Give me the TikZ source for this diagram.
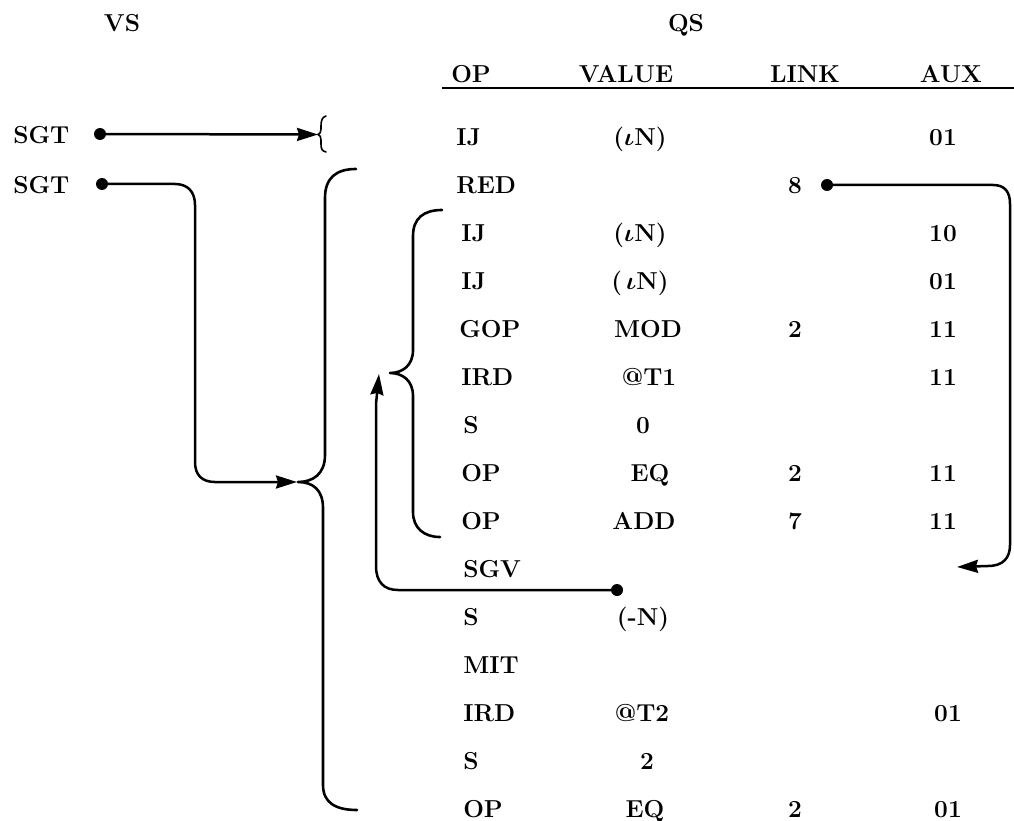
\documentclass[tikz,border=0pt]{standalone}
\usetikzlibrary{arrows.meta}
\begin{document}
\begin{tikzpicture}[x=1pt,y=-1pt,line width=2.5pt,line cap=round,line join=round,
  txt/.style={inner sep=0pt,font=\fontsize{24.5}{29}\selectfont\bfseries\boldmath},
  lft/.style={txt,anchor=base west},
  ctr/.style={txt,anchor=base},
  dot/.style={circle,fill,inner sep=0pt,minimum size=12pt},
  arr/.style={-{Stealth[length=21pt,width=13pt,inset=2pt]}},
  brace/.style={line width=2.6pt}]
\useasboundingbox (0,0) rectangle (1014,821);

% headers
\node[ctr] (vs) at (122,31.5) {VS};
\node[ctr] (qs) at (686,31.5) {QS};
\node[lft] (hop) at (450,82.5) {OP};
\node[ctr] (hval) at (626,82.5) {VALUE};
\node[ctr] (hlink) at (805,82.5) {LINK};
\node[ctr] (haux) at (951,82.5) {AUX};
\coordinate (hl) at (442,88);
\coordinate (hr) at (1014,88);
\draw[line width=2.2pt,line cap=butt] (hl) -- (hr);

% VS labels
\node[lft] (sgt1) at (12,143.5) {SGT};
\node[lft] (sgt2) at (12,193.5) {SGT};

% QS rows (baseline = centre + 8.5)
\node[lft] (op0) at (455,145.5) {IJ};
\node[ctr] (val0) at (640,145.5) {($\iota$N)};
\node[ctr] (aux0) at (943,145.5) {01};

\node[lft] (op1) at (455,193.5) {RED};
\node[ctr] (lnk1) at (795,193.5) {8};

\node[lft] (op2) at (460,241.5) {IJ};
\node[ctr] (val2) at (640,241.5) {($\iota$N)};
\node[ctr] (aux2) at (943,241.5) {10};

\node[lft] (op3) at (460,289.5) {IJ};
\node[ctr] (val3) at (640,289.5) {(\,$\iota$N)};
\node[ctr] (aux3) at (943,289.5) {01};

\node[lft] (op4) at (458,337.5) {GOP};
\node[ctr] (val4) at (648,337.5) {MOD};
\node[ctr] (lnk4) at (795,337.5) {2};
\node[ctr] (aux4) at (943,337.5) {11};

\node[lft] (op5) at (460,385.5) {IRD};
\node[ctr] (val5) at (649,385.5) {@T1};
\node[ctr] (aux5) at (943,385.5) {11};

\node[lft] (op6) at (462,433.5) {S};
\node[ctr] (val6) at (643,433.5) {0};

\node[lft] (op7) at (460,481.5) {OP};
\node[ctr] (val7) at (650,481.5) {EQ};
\node[ctr] (lnk7) at (795,481.5) {2};
\node[ctr] (aux7) at (943,481.5) {11};

\node[lft] (op8) at (460,529.5) {OP};
\node[ctr] (val8) at (644,529.5) {ADD};
\node[ctr] (lnk8) at (795,529.5) {7};
\node[ctr] (aux8) at (943,529.5) {11};

\node[lft] (op9) at (462,577.5) {SGV};

\node[lft] (op10) at (462,625.5) {S};
\node[ctr] (val10) at (643,625.5) {(-N)};

\node[lft] (op11) at (462,673.5) {MIT};

\node[lft] (op12) at (462,721.5) {IRD};
\node[ctr] (val12) at (642,721.5) {@T2};
\node[ctr] (aux12) at (948,721.5) {01};

\node[lft] (op13) at (462,769.5) {S};
\node[ctr] (val13) at (647,769.5) {2};

\node[lft] (op14) at (462,817.5) {OP};
\node[ctr] (val14) at (645,817.5) {EQ};
\node[ctr] (lnk14) at (795,817.5) {2};
\node[ctr] (aux14) at (948,817.5) {01};

% dots
\node[dot] (d1) at (100,134) {};
\node[dot] (d2) at (102,184) {};
\node[dot] (d3) at (827,185) {};
\node[dot] (d4) at (617,590) {};

% small brace and first arrow
\coordinate (sb) at (318,134.5);
\draw[line width=1.6pt] (326,116) .. controls (322,117) and (321,121) .. (321,126)
  -- (321,129) .. controls (321,132) and (320,134) .. (318,134.5)
  .. controls (320,135) and (321,137) .. (321,140)
  -- (321,144) .. controls (321,149) and (322,151) .. (326,152);
\draw[arr] (d1.center) -- (sb);

% big brace
\coordinate (bigcusp) at (298,482);
\draw[brace] (356,169) .. controls (336,169) and (325,178) .. (325,198)
  -- (325,455) .. controls (325,474) and (313,482) .. (bigcusp)
  .. controls (313,482) and (323,490) .. (323,508)
  -- (323,785) .. controls (323,803) and (336,810) .. (357,810);

% inner brace
\coordinate (incusp) at (390,373);
\draw[brace] (442,210) .. controls (424,210) and (413,218) .. (413,236)
  -- (413,350) .. controls (413,366) and (402,373) .. (incusp)
  .. controls (402,373) and (413,380) .. (413,396)
  -- (413,512) .. controls (413,528) and (424,537) .. (440,537);

% second SGT route into the big brace
\coordinate (bigtip) at (297,482);
\draw[arr] (d2.center) -- (175,184) .. controls (188,184) and (195,192) .. (195,205)
  -- (195,462) .. controls (195,475) and (202,482) .. (215,482) -- (bigtip);

% SGV return into the inner brace
\coordinate (intip) at (379,374);
\draw[arr] (d4.center) -- (398,590) .. controls (384,590) and (376,582) .. (376,566)
  -- (376,404) -- (intip);

% link loop on the right
\coordinate (rtip) at (957,567);
\draw[arr] (d3.center) -- (993,185) .. controls (1005,185) and (1010,192) .. (1010,204)
  -- (1010,545) .. controls (1010,558) and (1003,566) .. (988,566) -- (rtip);
\end{tikzpicture}
\end{document}
